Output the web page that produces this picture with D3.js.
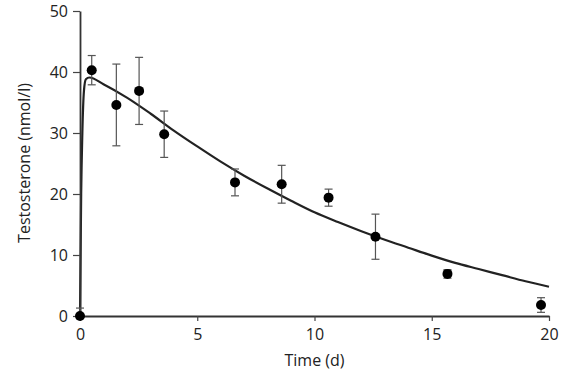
<!DOCTYPE html>
<html>
<head>
<meta charset="utf-8">
<script src="https://cdn.jsdelivr.net/npm/d3@7"></script>
<style>
body { margin: 0; background: #fff; }
text { font-family: "Open Sans", "Noto Sans", sans-serif; fill: #222; }
</style>
</head>
<body>
<script>
// measured points (days, nmol/l) with error
var times = [0, 0.5, 1.55, 2.52, 3.59, 6.61, 8.6, 10.6, 12.6, 15.67, 19.66];
var means = [0, 40.3, 34.6, 36.9, 29.8, 21.9, 21.6, 19.4, 13.0, 6.9, 1.8];
var errs  = [1.3, 2.4, 6.7, 5.5, 3.8, 2.2, 3.1, 1.4, 3.7, 0.7, 1.2];

// fitted curve
var fitT = [0, 0.05, 0.1, 0.17, 0.25, 0.4, 1, 2, 3, 4, 5, 6, 7, 8, 9, 10, 11, 12, 13, 14, 15, 16, 17, 18, 19, 20];
var fitY = [0, 20, 30, 37, 38.8, 39.1, 38.0, 35.8, 33.2, 30.4, 27.8, 25.3, 23.0, 20.9, 18.9, 17.0, 15.4, 13.9, 12.5, 11.2, 9.9, 8.7, 7.7, 6.7, 5.7, 4.8];

var xTicks = [0, 5, 10, 15, 20];
var yTicks = [0, 10, 20, 30, 40, 50];

var W = 569, H = 379;
var margin = {left: 80, right: 20, top: 11, bottom: 63};

var svg = d3.select("body").append("svg")
    .attr("width", W)
    .attr("height", H);

var x = d3.scaleLinear().domain([0, 20]).range([margin.left, W - margin.right]);
var y = d3.scaleLinear().domain([0, 50]).range([H - margin.bottom, margin.top]);

// curve
var line = d3.line()
    .x(function(d) { return x(d[0]); })
    .y(function(d) { return y(d[1]); })
    .curve(d3.curveMonotoneX);

svg.append("path")
    .datum(fitT.map(function(t, i) { return [t, fitY[i]]; }))
    .attr("d", line)
    .attr("fill", "none")
    .attr("stroke", "#222")
    .attr("stroke-width", 2.2);

// axes
var xAxis = svg.append("g")
    .attr("transform", "translate(0," + y(0) + ")")
    .call(d3.axisBottom(x).tickValues(xTicks).tickSize(5).tickSizeOuter(0).tickPadding(8));
var yAxis = svg.append("g")
    .attr("transform", "translate(" + x(0) + ",0)")
    .call(d3.axisLeft(y).tickValues(yTicks).tickSize(7).tickSizeOuter(0).tickPadding(5));

[xAxis, yAxis].forEach(function(g) {
    g.select(".domain").attr("stroke", "#333").attr("stroke-width", 1.8);
    g.selectAll(".tick line").attr("stroke", "#444").attr("stroke-width", 1.2);
    g.selectAll(".tick text").style("font-size", "16px").attr("fill", "#222");
});

// error bars
var pts = times.map(function(t, i) { return {t: t, m: means[i], e: errs[i]}; });
var eb = svg.append("g").attr("stroke", "#555").attr("stroke-width", 1.2);
pts.forEach(function(d) {
    var cx = x(d.t);
    var lo = Math.max(0, d.m - d.e);
    eb.append("line").attr("x1", cx).attr("x2", cx).attr("y1", y(d.m + d.e)).attr("y2", y(lo));
    eb.append("line").attr("x1", cx - 4).attr("x2", cx + 4).attr("y1", y(d.m + d.e)).attr("y2", y(d.m + d.e));
    if (d.m - d.e > 0) {
        eb.append("line").attr("x1", cx - 4).attr("x2", cx + 4).attr("y1", y(lo)).attr("y2", y(lo));
    }
});

svg.append("g").selectAll("circle")
    .data(pts)
    .enter()
    .append("circle")
    .attr("cx", function(d) { return x(d.t); })
    .attr("cy", function(d) { return y(d.m); })
    .attr("r", 5)
    .attr("fill", "#000");

// labels
svg.append("text")
    .attr("x", (x(0) + x(20)) / 2)
    .attr("y", 366)
    .attr("text-anchor", "middle")
    .style("font-size", "16px")
    .text("Time (d)");

svg.append("text")
    .attr("transform", "translate(30," + 163 + ") rotate(-90)")
    .attr("text-anchor", "middle")
    .style("font-size", "16px")
    .text("Testosterone (nmol/l)");
</script>
</body>
</html>
